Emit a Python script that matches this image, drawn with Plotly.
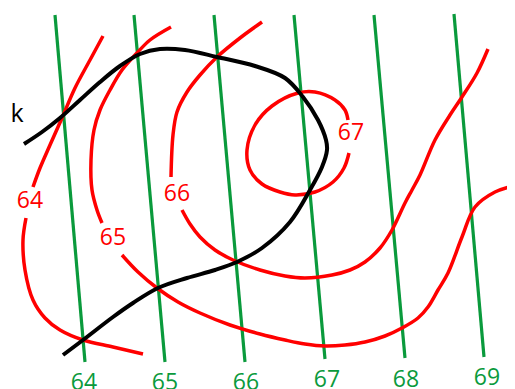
import plotly.graph_objects as go

W, H = 515, 389
OFF = 8  # default page body margin

# Green straight isolines (value, top point, bottom point)
green_values = [64, 65, 66, 67, 68, 69]
green_top_x = [55, 134, 214, 294, 374, 454]
green_top_y = [15, 15, 15, 15, 15, 14]
green_bot_x = [85, 165, 245, 325, 405, 484]
green_bot_y = [362, 362, 362, 359, 358, 357]
green_label_x = [84, 165, 246, 327, 406, 487]
green_label_y = [384, 384, 384, 381, 381, 379]

# Red curves (hand-drawn isolines)
red64_a_x = [103, 90, 75, 62, 50, 40, 33]
red64_a_y = [36, 60, 88, 118, 145, 168, 187]
red64_b_x = [26, 23, 25, 33, 45, 60, 83, 113, 143]
red64_b_y = [218, 240, 270, 300, 318, 330, 340, 347, 354]

red65_a_x = [171, 150, 137, 122, 110, 100, 94, 91, 92, 97, 102]
red65_a_y = [27, 40, 53, 70, 90, 110, 130, 160, 190, 210, 223]
red65_b_x = [122, 138, 157, 178, 200, 230, 260, 285, 305, 325, 345, 365, 385, 402, 418, 428, 438, 448, 462, 475, 495, 513]
red65_b_y = [255, 272, 288, 302, 313, 325, 334, 340, 344, 346, 345, 342, 336, 328, 318, 307, 290, 273, 237, 207, 192, 186]

red66_a_x = [262, 240, 217, 200, 187, 177, 173, 171]
red66_a_y = [22, 38, 57, 75, 92, 112, 135, 177]
red66_b_x = [182, 190, 200, 215, 233, 260, 285, 305, 332, 350, 365, 380, 392, 405, 412, 420, 435, 450, 462, 477, 488]
red66_b_y = [210, 224, 237, 250, 260, 270, 276, 278, 275, 270, 262, 248, 230, 203, 190, 175, 140, 115, 97, 73, 49]

red67_x = [348, 345, 335, 315, 298, 272, 255, 247, 250, 262, 280, 295, 315, 333, 344, 349]
red67_y = [120, 110, 100, 92, 93, 106, 125, 150, 170, 184, 192, 195, 192, 182, 168, 153]

red_labels = ["64", "65", "66", "67"]
red_label_x = [30, 113, 177, 351]
red_label_y = [202, 239, 195, 134]

# Black curve k
black_x = [24, 42, 60, 80, 100, 120, 140, 160, 185, 217, 255, 285, 303, 318, 326, 327, 322, 310, 290, 262, 237, 215, 187, 158, 133, 113, 83, 63]
black_y = [144, 132, 118, 100, 82, 66, 54, 49, 50, 57, 66, 78, 97, 120, 140, 150, 167, 190, 222, 248, 262, 270, 278, 288, 303, 317, 340, 355]

GREEN = "#0A9A3C"
RED = "#FF0000"

fig = go.Figure()

for i in range(len(green_values)):
    fig.add_trace(go.Scatter(
        x=[green_top_x[i], green_bot_x[i]], y=[green_top_y[i], green_bot_y[i]],
        mode="lines", line=dict(color=GREEN, width=3.2), hoverinfo="skip"))

for xs, ys in [(red64_a_x, red64_a_y), (red64_b_x, red64_b_y),
               (red65_a_x, red65_a_y), (red65_b_x, red65_b_y),
               (red66_a_x, red66_a_y), (red66_b_x, red66_b_y),
               (red67_x, red67_y)]:
    fig.add_trace(go.Scatter(x=xs, y=ys, mode="lines",
                             line=dict(color=RED, width=3.5, shape="spline", smoothing=1.0),
                             hoverinfo="skip"))

fig.add_trace(go.Scatter(x=black_x, y=black_y, mode="lines",
                         line=dict(color="black", width=4, shape="spline", smoothing=1.0),
                         hoverinfo="skip"))

fig.add_trace(go.Scatter(x=green_label_x, y=green_label_y, mode="text",
                         text=[str(v) for v in green_values],
                         textfont=dict(color=GREEN, size=23, family="Open Sans"),
                         hoverinfo="skip"))
fig.add_trace(go.Scatter(x=red_label_x, y=red_label_y, mode="text", text=red_labels,
                         textfont=dict(color=RED, size=23, family="Open Sans"),
                         hoverinfo="skip"))
fig.add_trace(go.Scatter(x=[17], y=[116], mode="text", text=["k"],
                         textfont=dict(color="black", size=25, family="Open Sans"),
                         hoverinfo="skip"))

fig.update_layout(
    width=W - OFF, height=H - OFF, margin=dict(l=0, r=0, t=0, b=0),
    paper_bgcolor="white", plot_bgcolor="white", showlegend=False,
    xaxis=dict(range=[OFF, W], visible=False, fixedrange=True),
    yaxis=dict(range=[H, OFF], visible=False, fixedrange=True),
)

fig.write_html("out.html", config={"displayModeBar": False})
